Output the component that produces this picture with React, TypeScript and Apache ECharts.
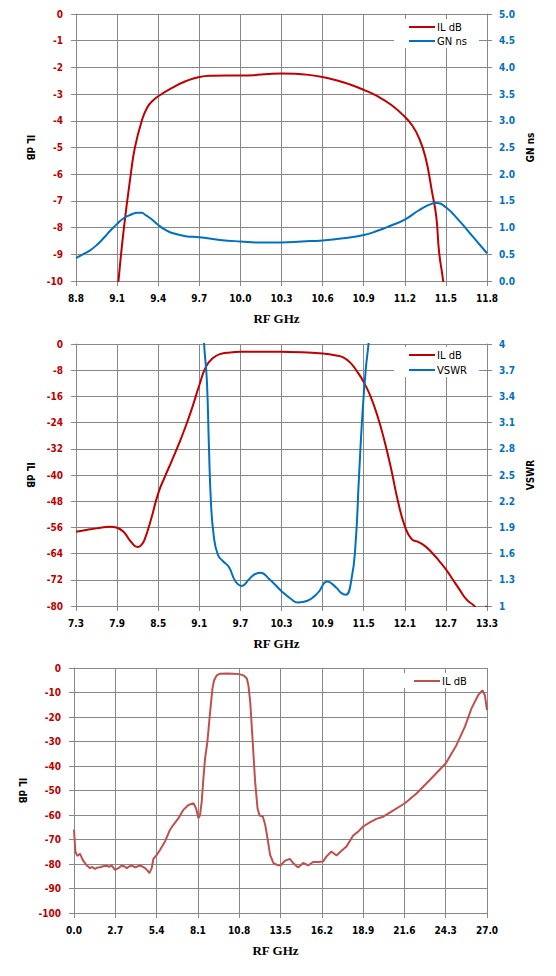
import React, { useEffect, useRef } from "react";
import * as echarts from "echarts";

// ---------- tick labels ----------
const topFreqTicks = [8.8, 9.1, 9.4, 9.7, 10.0, 10.3, 10.6, 10.9, 11.2, 11.5, 11.8];
const midFreqTicks = [7.3, 7.9, 8.5, 9.1, 9.7, 10.3, 10.9, 11.5, 12.1, 12.7, 13.3];
const botFreqTicks = [0, 2.7, 5.4, 8.1, 10.8, 13.5, 16.2, 18.9, 21.6, 24.3, 27.0];
const vswrTicks = [1, 1.3, 1.6, 1.9, 2.2, 2.5, 2.8, 3.1, 3.4, 3.7, 4];

// ---------- chart 1: IL dB / GN ns ----------
const topIlFreq = [9.09, 9.11, 9.15, 9.2, 9.23, 9.28, 9.32, 9.36, 9.4, 9.5, 9.6, 9.7, 9.8, 9.9, 10.0, 10.1, 10.2, 10.3, 10.4, 10.5, 10.6, 10.7, 10.8, 10.9, 11.0, 11.1, 11.2, 11.25, 11.3, 11.35, 11.4, 11.43, 11.45, 11.48, 11.5];
const topIlDb = [-11.2, -10.0, -8.0, -6.0, -5.0, -4.0, -3.5, -3.25, -3.08, -2.77, -2.52, -2.36, -2.31, -2.3, -2.3, -2.29, -2.25, -2.23, -2.24, -2.28, -2.36, -2.48, -2.64, -2.84, -3.08, -3.4, -3.85, -4.15, -4.6, -5.35, -6.7, -7.6, -8.9, -10.0, -11.0];
const topGnFreq = [8.8, 8.85, 8.9, 8.95, 9.0, 9.05, 9.1, 9.15, 9.2, 9.25, 9.28, 9.3, 9.35, 9.4, 9.45, 9.5, 9.6, 9.7, 9.85, 10.0, 10.15, 10.3, 10.45, 10.6, 10.75, 10.9, 11.0, 11.1, 11.2, 11.3, 11.38, 11.43, 11.5, 11.6, 11.7, 11.8];
const topGnNs = [0.43, 0.5, 0.57, 0.67, 0.8, 0.94, 1.07, 1.18, 1.24, 1.28, 1.28, 1.25, 1.16, 1.05, 0.96, 0.9, 0.84, 0.82, 0.77, 0.74, 0.72, 0.72, 0.74, 0.76, 0.8, 0.86, 0.94, 1.04, 1.15, 1.32, 1.43, 1.46, 1.38, 1.12, 0.82, 0.52];

// ---------- chart 2: IL dB / VSWR ----------
const midIlFreq = [7.3, 7.45, 7.6, 7.8, 7.9, 8.0, 8.1, 8.2, 8.25, 8.3, 8.4, 8.5, 8.6, 8.7, 8.8, 8.9, 9.0, 9.1, 9.2, 9.3, 9.4, 9.55, 9.7, 10.0, 10.3, 10.6, 10.9, 11.1, 11.2, 11.3, 11.4, 11.5, 11.6, 11.7, 11.8, 11.9, 12.0, 12.1, 12.2, 12.3, 12.4, 12.5, 12.6, 12.7, 12.8, 12.9, 13.0, 13.1, 13.2, 13.3];
const midIlDb = [-57.3, -56.8, -56.3, -55.8, -56.1, -57.5, -60.3, -62.0, -61.5, -59.8, -53.2, -45.6, -40.4, -35.6, -30.6, -25.2, -19.2, -12.6, -6.8, -4.3, -3.1, -2.6, -2.4, -2.35, -2.4, -2.5, -2.9, -3.5, -4.1, -5.6, -8.3, -11.6, -16.0, -21.9, -29.3, -38.1, -48.0, -55.6, -59.6, -60.5, -61.8, -63.8, -66.2, -68.8, -71.9, -75.0, -78.0, -79.7, -81.5, -80.0];
const midVswrFreq = [9.15, 9.17, 9.21, 9.24, 9.27, 9.31, 9.37, 9.45, 9.53, 9.63, 9.72, 9.82, 9.9, 9.99, 10.12, 10.3, 10.44, 10.54, 10.68, 10.83, 10.97, 11.1, 11.17, 11.24, 11.32, 11.38, 11.43, 11.48, 11.53, 11.57, 11.6];
const midVswr = [4.4, 4.0, 3.59, 2.84, 2.19, 1.81, 1.59, 1.51, 1.45, 1.28, 1.23, 1.3, 1.36, 1.38, 1.31, 1.17, 1.08, 1.04, 1.06, 1.15, 1.28, 1.21, 1.15, 1.13, 1.3, 1.7, 2.46, 3.18, 3.71, 4.0, 4.3];

// ---------- chart 3: wideband IL dB ----------
const botFreq = [0.0, 0.09, 0.22, 0.39, 0.57, 0.79, 1.05, 1.2, 1.37, 1.55, 1.7, 1.9, 2.14, 2.3, 2.46, 2.68, 2.9, 3.12, 3.3, 3.45, 3.6, 3.77, 3.99, 4.15, 4.32, 4.5, 4.65, 4.8, 4.93, 5.08, 5.19, 5.41, 5.63, 5.95, 6.28, 6.5, 6.83, 7.15, 7.48, 7.81, 7.98, 8.14, 8.24, 8.35, 8.46, 8.57, 8.72, 8.9, 9.05, 9.16, 9.33, 9.55, 10.0, 10.43, 10.8, 11.08, 11.3, 11.4, 11.52, 11.67, 11.84, 12.0, 12.13, 12.34, 12.5, 12.65, 12.82, 13.04, 13.26, 13.5, 13.78, 14.11, 14.33, 14.65, 14.98, 15.31, 15.63, 15.96, 16.29, 16.51, 16.83, 17.16, 17.49, 17.81, 18.25, 18.58, 18.9, 19.34, 19.77, 20.21, 20.75, 21.63, 22.39, 23.26, 24.31, 25.0, 25.55, 25.98, 26.42, 26.7, 26.86, 27.0];
const botIlDb = [-66, -75, -76.7, -75.8, -78.3, -80.3, -81.7, -81.2, -82, -81.4, -81.3, -80.9, -80.7, -81.2, -80.6, -82.4, -81.7, -80.6, -81.0, -81.7, -81.0, -80.6, -81.4, -81.0, -80.6, -81.2, -81.7, -82.6, -83.7, -81.7, -77.9, -76.3, -74.2, -70.8, -66, -64, -61.3, -57.9, -55.9, -55.2, -57.3, -61.3, -60, -54.5, -45, -36.9, -30.1, -17.9, -8.4, -5, -3, -2.3, -2.2, -2.3, -2.5, -3, -4.3, -7, -13.8, -28.8, -46.4, -57.3, -60.2, -60.6, -64, -69.5, -76.3, -79.6, -80.3, -80.6, -78.7, -77.9, -79.6, -81.4, -79.6, -80.6, -79.2, -79.2, -79, -76.9, -74.9, -76.5, -74.6, -72.9, -68.4, -66.8, -64.7, -63, -61.6, -60.7, -58.6, -55.2, -51.2, -45.7, -38.9, -31.5, -24, -16.6, -11.1, -9.1, -11.1, -17.2];

const zip = (xs: number[], ys: number[]) => xs.map((x, i) => [x, ys[i]]);

const GRID = "#888888";
const RED = "#C00000";
const BLUE = "#0070C0";
const RED2 = "#C0504D";
const tickFont = {
  fontFamily: "'DejaVu Sans Condensed', 'DejaVu Sans', sans-serif",
  fontWeight: "bold" as const,
  fontSize: 10,
};
const titleFont = {
  fontFamily: "'DejaVu Sans Condensed', 'DejaVu Sans', sans-serif",
  fontWeight: "bold" as const,
  fontSize: 10,
  color: "#000",
};

function makeX(min: number, max: number, ticks: number[]) {
  return {
    type: "value",
    min,
    max,
    name: "RF GHz",
    nameLocation: "middle",
    nameGap: 31,
    nameTextStyle: {
      fontFamily: "'Liberation Serif', 'Times New Roman', serif",
      fontWeight: "bold",
      fontSize: 13,
      color: "#000",
      padding: [0, 10, 0, 0],
    },
    axisLine: { show: true, onZero: false, lineStyle: { color: GRID, width: 1 } },
    axisTick: { show: true, length: 5, customValues: ticks, lineStyle: { color: GRID, width: 1 } },
    axisLabel: {
      customValues: ticks,
      margin: 12,
      color: "#000",
      ...tickFont,
      formatter: (v: number) => v.toFixed(1),
    },
    splitLine: { show: true, lineStyle: { color: GRID, width: 1 } },
  };
}

function makeLeftY(min: number, max: number, interval: number) {
  return {
    type: "value",
    position: "left",
    min,
    max,
    interval,
    name: "IL dB",
    nameLocation: "middle",
    nameGap: 37,
    nameRotate: -90,
    nameTextStyle: titleFont,
    axisLine: { show: true, onZero: false, lineStyle: { color: GRID, width: 1 } },
    axisTick: { show: true, length: 5, lineStyle: { color: GRID, width: 1 } },
    axisLabel: { margin: 13, color: RED, ...tickFont },
    splitLine: { show: true, lineStyle: { color: GRID, width: 1 } },
  };
}

function makeLegend(top: number, gap: number, data: any[]) {
  return {
    orient: "vertical",
    left: 394,
    top,
    padding: [2, 12, 1, 14],
    backgroundColor: "#ffffff",
    itemWidth: 26,
    itemHeight: 12,
    itemGap: gap,
    selectedMode: false,
    itemStyle: { opacity: 0 },
    textStyle: {
      fontFamily: "'DejaVu Sans', Verdana, sans-serif",
      fontSize: 10,
      color: "#000",
      lineHeight: 12,
      padding: [0, 0, 0, -3],
    },
    data,
  };
}

function lineSeries(name: string, data: number[][], color: string, yAxisIndex: number, smooth: boolean) {
  return {
    name,
    type: "line",
    yAxisIndex,
    data,
    symbol: "none",
    smooth: smooth ? 0.5 : false,
    clip: true,
    lineStyle: { color, width: 2 },
    itemStyle: { color },
  };
}

const option1 = {
  animation: false,
  grid: { left: 76, top: 14, width: 411, height: 267, containLabel: false },
  legend: makeLegend(19, 2, ["IL dB", "GN ns"]),
  xAxis: makeX(8.8, 11.8, topFreqTicks),
  yAxis: [
    makeLeftY(-10, 0, 1),
    {
      type: "value",
      position: "right",
      min: 0,
      max: 5,
      interval: 0.5,
      name: "GN ns",
      nameLocation: "middle",
      nameGap: 38,
      nameRotate: 90,
      nameTextStyle: titleFont,
      axisLine: { show: true, lineStyle: { color: GRID, width: 1 } },
      axisTick: { show: true, length: 5, lineStyle: { color: GRID, width: 1 } },
      axisLabel: { margin: 12, color: BLUE, ...tickFont, formatter: (v: number) => v.toFixed(1) },
      splitLine: { show: false },
    },
  ],
  series: [
    lineSeries("IL dB", zip(topIlFreq, topIlDb), RED, 0, true),
    lineSeries("GN ns", zip(topGnFreq, topGnNs), BLUE, 1, true),
  ],
};

const option2 = {
  animation: false,
  grid: { left: 76, top: 14, width: 411, height: 264, containLabel: false },
  legend: makeLegend(17, 3, ["IL dB", "VSWR"]),
  xAxis: makeX(7.3, 13.3, midFreqTicks),
  yAxis: [
    makeLeftY(-80, 0, 8),
    {
      type: "value",
      position: "right",
      min: 1,
      max: 4,
      name: "VSWR",
      nameLocation: "middle",
      nameGap: 38,
      nameRotate: 90,
      nameTextStyle: titleFont,
      axisLine: { show: true, lineStyle: { color: GRID, width: 1 } },
      axisTick: { show: true, length: 5, customValues: vswrTicks, lineStyle: { color: GRID, width: 1 } },
      axisLabel: { customValues: vswrTicks, margin: 12, color: BLUE, ...tickFont },
      splitLine: { show: false },
    },
  ],
  series: [
    lineSeries("IL dB", zip(midIlFreq, midIlDb), RED, 0, true),
    lineSeries("VSWR", zip(midVswrFreq, midVswr), BLUE, 1, true),
  ],
};

const option3 = {
  animation: false,
  grid: { left: 74, top: 13, width: 413, height: 245, containLabel: false },
  legend: { ...makeLegend(18, 2, ["IL dB"]), left: 399 },
  xAxis: makeX(0, 27, botFreqTicks),
  yAxis: [makeLeftY(-100, 0, 10)],
  series: [lineSeries("IL dB", zip(botFreq, botIlDb), RED2, 0, false)],
};

function Chart({ option, top, height }: { option: any; top: number; height: number }) {
  const ref = useRef<HTMLDivElement>(null);
  useEffect(() => {
    if (!ref.current) return;
    const chart = echarts.init(ref.current, undefined, { renderer: "svg" });
    chart.setOption(option);
    return () => chart.dispose();
  }, [option]);
  return (
    <div
      ref={ref}
      style={{ position: "absolute", left: 0, top, width: 556, height }}
    />
  );
}

export default function App() {
  return (
    <div style={{ position: "absolute", left: 0, top: 0, width: 556, height: 976, background: "#fff" }}>
      <Chart option={option1} top={0} height={330} />
      <Chart option={option2} top={330} height={325} />
      <Chart option={option3} top={655} height={321} />
    </div>
  );
}
